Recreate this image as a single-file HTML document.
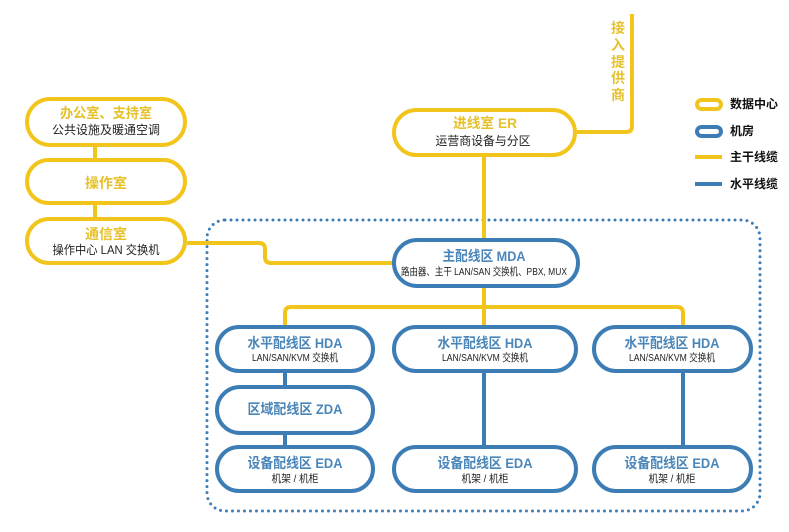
<!DOCTYPE html>
<html><head><meta charset="utf-8"><style>
html,body{margin:0;padding:0;background:#fff;}
svg{display:block;}
text{font-family:"Liberation Sans","Noto Sans CJK SC",sans-serif;}
.ty{fill:#e6c12c;font-weight:bold;font-size:14px;}
.tb{fill:#4a86b9;font-weight:bold;font-size:14px;}
.s{fill:#222;font-size:12px;}
.ss{fill:#222;font-size:10.5px;}
.lg{fill:#111;font-weight:bold;font-size:12px;}
</style></head><body>
<svg width="789" height="532" viewBox="0 0 789 532" xmlns="http://www.w3.org/2000/svg">
<rect x="207" y="220" width="553" height="291" rx="18" fill="none" stroke="#3d7db5" stroke-width="3" stroke-linecap="round" stroke-dasharray="0 6"/>

<g fill="none" stroke="#f2c51c" stroke-width="4">
<path d="M95,145 V160"/>
<path d="M95,203 V219"/>
<path d="M187,243 H259 Q265,243 265,249 V257 Q265,263 271,263 H394"/>
<path d="M577,132 H626 Q632,132 632,126 V14"/>
<path d="M484,157 V240"/>
<path d="M484,288 V327"/>
<path d="M285,327 V313 Q285,307 291,307 H677 Q683,307 683,313 V327"/>
<rect x="27" y="99" width="158" height="46" rx="23"/>
<rect x="27" y="160" width="158" height="43" rx="21.5"/>
<rect x="27" y="219" width="158" height="44" rx="22"/>
<rect x="394" y="110" width="181" height="45" rx="22.5"/>
</g>

<g fill="none" stroke="#3d7db5" stroke-width="4">
<path d="M285,373 V387"/>
<path d="M285,433 V447"/>
<path d="M484,373 V447"/>
<path d="M683,373 V447"/>
<rect x="394" y="240" width="184" height="46" rx="23" fill="#fff"/>
<rect x="217" y="327" width="156" height="44" rx="22"/>
<rect x="394" y="327" width="182" height="44" rx="22"/>
<rect x="594" y="327" width="157" height="44" rx="22"/>
<rect x="217" y="387" width="156" height="46" rx="23"/>
<rect x="217" y="447" width="156" height="44" rx="22"/>
<rect x="394" y="447" width="182" height="44" rx="22"/>
<rect x="594" y="447" width="157" height="44" rx="22"/>
</g>

<!-- left column -->
<text class="ty" x="106" y="118" text-anchor="middle" textLength="92" lengthAdjust="spacingAndGlyphs">办公室、支持室</text>
<text class="s" x="106" y="134" text-anchor="middle" textLength="108" lengthAdjust="spacingAndGlyphs">公共设施及暖通空调</text>
<text class="ty" x="106" y="188" text-anchor="middle" textLength="42" lengthAdjust="spacingAndGlyphs">操作室</text>
<text class="ty" x="106" y="239" text-anchor="middle" textLength="42" lengthAdjust="spacingAndGlyphs">通信室</text>
<text class="s" x="106" y="254" text-anchor="middle" textLength="107" lengthAdjust="spacingAndGlyphs">操作中心 LAN 交换机</text>

<!-- ER -->
<text class="ty" x="485" y="128" text-anchor="middle" textLength="64" lengthAdjust="spacingAndGlyphs">进线室 ER</text>
<text class="s" x="483" y="145" text-anchor="middle" textLength="95" lengthAdjust="spacingAndGlyphs">运营商设备与分区</text>

<!-- vertical text -->
<g class="ty" text-anchor="middle">
<text class="ty" x="618" y="33">接</text>
<text class="ty" x="618" y="50">入</text>
<text class="ty" x="618" y="67">提</text>
<text class="ty" x="618" y="83">供</text>
<text class="ty" x="618" y="100">商</text>
</g>

<!-- MDA -->
<text class="tb" x="484" y="261" text-anchor="middle" textLength="83" lengthAdjust="spacingAndGlyphs">主配线区 MDA</text>
<text class="ss" x="484" y="275" text-anchor="middle" textLength="166" lengthAdjust="spacingAndGlyphs">路由器、主干 LAN/SAN 交换机、PBX, MUX</text>

<!-- HDA -->
<text class="tb" x="295" y="348" text-anchor="middle" textLength="95" lengthAdjust="spacingAndGlyphs">水平配线区 HDA</text>
<text class="ss" x="295" y="361" text-anchor="middle" textLength="86" lengthAdjust="spacingAndGlyphs">LAN/SAN/KVM 交换机</text>
<text class="tb" x="485" y="348" text-anchor="middle" textLength="95" lengthAdjust="spacingAndGlyphs">水平配线区 HDA</text>
<text class="ss" x="485" y="361" text-anchor="middle" textLength="86" lengthAdjust="spacingAndGlyphs">LAN/SAN/KVM 交换机</text>
<text class="tb" x="672" y="348" text-anchor="middle" textLength="95" lengthAdjust="spacingAndGlyphs">水平配线区 HDA</text>
<text class="ss" x="672" y="361" text-anchor="middle" textLength="86" lengthAdjust="spacingAndGlyphs">LAN/SAN/KVM 交换机</text>

<!-- ZDA -->
<text class="tb" x="295" y="414" text-anchor="middle" textLength="95" lengthAdjust="spacingAndGlyphs">区域配线区 ZDA</text>

<!-- EDA -->
<text class="tb" x="295" y="468" text-anchor="middle" textLength="95" lengthAdjust="spacingAndGlyphs">设备配线区 EDA</text>
<text class="ss" x="295" y="482" text-anchor="middle" textLength="47" lengthAdjust="spacingAndGlyphs">机架 / 机柜</text>
<text class="tb" x="485" y="468" text-anchor="middle" textLength="95" lengthAdjust="spacingAndGlyphs">设备配线区 EDA</text>
<text class="ss" x="485" y="482" text-anchor="middle" textLength="47" lengthAdjust="spacingAndGlyphs">机架 / 机柜</text>
<text class="tb" x="672" y="468" text-anchor="middle" textLength="95" lengthAdjust="spacingAndGlyphs">设备配线区 EDA</text>
<text class="ss" x="672" y="482" text-anchor="middle" textLength="47" lengthAdjust="spacingAndGlyphs">机架 / 机柜</text>

<!-- legend -->
<rect x="697" y="100" width="24" height="9" rx="4.5" fill="none" stroke="#f2c51c" stroke-width="4"/>
<rect x="697" y="127" width="24" height="9" rx="4.5" fill="none" stroke="#3d7db5" stroke-width="4"/>
<path d="M695,157 H722" stroke="#f2c51c" stroke-width="4"/>
<path d="M695,184 H722" stroke="#3d7db5" stroke-width="4"/>
<text class="lg" x="730" y="108">数据中心</text>
<text class="lg" x="730" y="135">机房</text>
<text class="lg" x="730" y="161">主干线缆</text>
<text class="lg" x="730" y="188">水平线缆</text>
</svg>
</body></html>
